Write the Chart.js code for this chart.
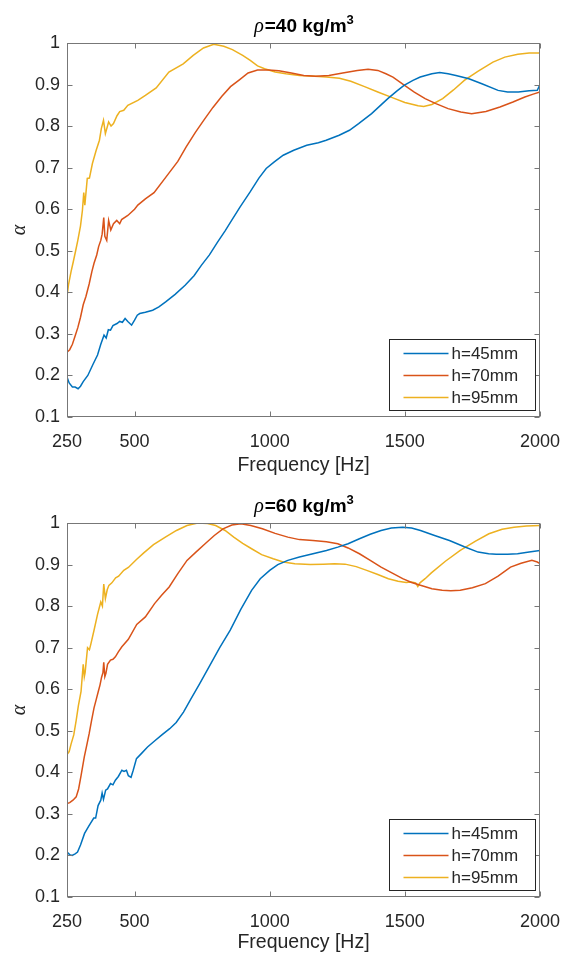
<!DOCTYPE html>
<html>
<head>
<meta charset="utf-8">
<script src="https://cdn.jsdelivr.net/npm/chart.js@4"></script>
<style>
  body { margin: 0; background: #fff; }
  canvas { position: absolute; left: 0; }
</style>
</head>
<body>
<canvas id="chart40" width="574" height="477" style="top:0"></canvas>
<canvas id="chart60" width="574" height="477" style="top:477px"></canvas>
<script>
// Absorption coefficient vs frequency, two densities, three thicknesses

const heights = ['h=45mm', 'h=70mm', 'h=95mm'];
const colors = ['#0072BD', '#D95319', '#EDB120'];
const densities = [40, 60];
const xTicks = [250, 500, 1000, 1500, 2000];
const yTicks = [0.1, 0.2, 0.3, 0.4, 0.5, 0.6, 0.7, 0.8, 0.9, 1];

// rho = 40 kg/m3
const f40_45 = [250,258,270,280,291,300,310,327,345,363,375,387,395,403,411,420,435,445,455,465,475,489,500,510,519,540,567,590,615,650,687,720,747,777,807,835,858,890,927,960,987,1017,1050,1089,1137,1180,1209,1257,1295,1329,1377,1437,1470,1497,1530,1557,1600,1629,1660,1689,1737,1785,1845,1880,1920,1960,1990,2000];
const a40_45 = [0.196,0.182,0.172,0.172,0.168,0.174,0.185,0.200,0.225,0.249,0.275,0.297,0.290,0.310,0.309,0.320,0.325,0.330,0.328,0.337,0.330,0.321,0.333,0.345,0.349,0.352,0.357,0.365,0.377,0.395,0.417,0.440,0.465,0.490,0.521,0.548,0.572,0.605,0.641,0.675,0.698,0.714,0.730,0.742,0.754,0.760,0.766,0.778,0.790,0.806,0.830,0.866,0.884,0.898,0.910,0.918,0.926,0.929,0.926,0.922,0.914,0.902,0.886,0.882,0.882,0.885,0.886,0.900];

const f40_70 = [250,260,270,280,290,300,310,320,332,342,350,360,367,375,380,386,390,397,404,412,422,434,445,452,475,500,512,540,572,625,660,691,725,757,790,823,855,889,920,955,995,1034,1080,1126,1170,1219,1270,1324,1364,1400,1430,1456,1495,1535,1575,1615,1660,1707,1747,1800,1852,1900,1944,1975,2000];
const a40_70 = [0.256,0.262,0.275,0.295,0.315,0.340,0.370,0.390,0.420,0.450,0.470,0.490,0.510,0.525,0.540,0.580,0.535,0.525,0.573,0.550,0.565,0.573,0.565,0.575,0.585,0.600,0.610,0.625,0.640,0.685,0.715,0.750,0.785,0.815,0.845,0.872,0.895,0.912,0.928,0.935,0.935,0.933,0.928,0.922,0.920,0.922,0.928,0.934,0.937,0.934,0.926,0.918,0.900,0.882,0.866,0.854,0.842,0.834,0.830,0.835,0.846,0.858,0.870,0.877,0.882];

const f40_95 = [250,256,265,272,282,290,300,307,312,316,325,333,344,358,370,377,385,392,404,413,422,435,445,460,475,512,540,580,627,680,717,755,793,830,862,900,928,955,981,1020,1060,1110,1166,1210,1258,1300,1351,1400,1456,1500,1549,1570,1600,1640,1680,1720,1770,1826,1870,1918,1960,2000];
const a40_95 = [0.390,0.420,0.450,0.470,0.500,0.525,0.560,0.597,0.640,0.610,0.674,0.675,0.710,0.742,0.766,0.794,0.814,0.782,0.810,0.800,0.806,0.825,0.835,0.838,0.850,0.862,0.874,0.892,0.930,0.950,0.970,0.988,0.997,0.992,0.984,0.970,0.958,0.945,0.938,0.930,0.926,0.922,0.920,0.918,0.915,0.908,0.895,0.882,0.868,0.857,0.849,0.847,0.852,0.866,0.887,0.910,0.932,0.954,0.966,0.973,0.976,0.976];

// rho = 60 kg/m3
const f60_45 = [250,260,269,280,289,300,315,330,349,356,365,375,380,385,393,400,411,420,429,440,453,461,470,477,487,495,507,525,548,575,601,630,654,681,707,740,774,815,854,893,933,965,1000,1030,1067,1110,1160,1210,1252,1290,1332,1372,1412,1450,1492,1525,1558,1610,1665,1720,1771,1810,1838,1880,1917,1960,2000];
const a60_45 = [0.208,0.202,0.200,0.204,0.208,0.225,0.253,0.270,0.290,0.290,0.320,0.333,0.350,0.335,0.357,0.360,0.373,0.370,0.381,0.390,0.405,0.402,0.405,0.392,0.388,0.405,0.433,0.445,0.461,0.476,0.490,0.505,0.520,0.545,0.575,0.612,0.652,0.700,0.742,0.792,0.838,0.866,0.886,0.900,0.910,0.918,0.926,0.934,0.942,0.950,0.962,0.973,0.982,0.988,0.990,0.988,0.982,0.970,0.958,0.943,0.930,0.926,0.925,0.925,0.926,0.930,0.934];

const f60_70 = [250,260,272,284,293,302,314,323,332,341,350,358,366,372,378,383,386,390,394,400,411,420,429,440,453,477,508,540,574,600,628,660,694,727,761,795,827,860,893,930,973,1020,1067,1110,1160,1210,1252,1290,1332,1372,1412,1452,1492,1525,1558,1600,1638,1670,1705,1750,1798,1845,1891,1930,1970,1990,2000];
const a60_70 = [0.325,0.327,0.333,0.341,0.360,0.392,0.437,0.465,0.493,0.525,0.555,0.575,0.595,0.610,0.629,0.640,0.665,0.630,0.638,0.660,0.670,0.672,0.678,0.690,0.702,0.720,0.756,0.774,0.806,0.826,0.846,0.878,0.910,0.930,0.950,0.970,0.986,0.995,0.998,0.994,0.986,0.975,0.966,0.960,0.958,0.955,0.950,0.940,0.926,0.910,0.894,0.880,0.866,0.857,0.850,0.842,0.838,0.837,0.838,0.844,0.854,0.872,0.894,0.903,0.910,0.906,0.902];

const f60_95 = [250,258,265,275,284,292,302,310,314,317,326,333,338,350,363,375,381,386,392,399,405,416,430,441,460,477,507,534,570,614,655,694,734,770,800,835,867,900,933,970,1013,1050,1093,1150,1199,1240,1279,1320,1359,1400,1439,1475,1505,1525,1540,1548,1556,1575,1598,1650,1705,1760,1811,1860,1904,1950,2000];
const a60_95 = [0.443,0.450,0.468,0.490,0.525,0.560,0.595,0.660,0.630,0.640,0.700,0.695,0.708,0.742,0.780,0.810,0.800,0.853,0.818,0.840,0.850,0.856,0.868,0.872,0.886,0.893,0.912,0.928,0.948,0.966,0.982,0.994,1.000,0.999,0.994,0.982,0.966,0.951,0.938,0.924,0.914,0.906,0.902,0.900,0.901,0.902,0.901,0.895,0.886,0.876,0.866,0.860,0.857,0.858,0.856,0.847,0.856,0.866,0.880,0.908,0.934,0.956,0.974,0.985,0.990,0.993,0.994];

const sans = '"Liberation Sans", Arial, sans-serif';
const serif = '"Liberation Serif", "Times New Roman", serif';
const textColor = '#262626';
const axisColor = '#777777';

function toPoints(f, a) {
    return f.map((v, i) => ({ x: v, y: a[i] }));
}

// axes box with inward ticks on all four sides (MATLAB style)
const boxPlugin = {
    id: 'matlabBox',
    afterDatasetsDraw(chart) {
        const ctx = chart.ctx;
        const area = chart.chartArea;
        const L = Math.round(area.left) + 0.5, R = Math.round(area.right) - 0.5;
        const T = Math.round(area.top) + 0.5, B = Math.round(area.bottom) - 0.5;
        ctx.save();
        ctx.strokeStyle = axisColor;
        ctx.lineWidth = 1;
        ctx.strokeRect(L, T, R - L, B - T);
        ctx.beginPath();
        chart.scales.x.ticks.forEach(t => {
            const px = Math.round(chart.scales.x.getPixelForValue(t.value)) + 0.5;
            ctx.moveTo(px, B); ctx.lineTo(px, B - 5);
            ctx.moveTo(px, T); ctx.lineTo(px, T + 5);
        });
        chart.scales.y.ticks.forEach(t => {
            const py = Math.round(chart.scales.y.getPixelForValue(t.value)) + 0.5;
            ctx.moveTo(L, py); ctx.lineTo(L + 5, py);
            ctx.moveTo(R, py); ctx.lineTo(R - 5, py);
        });
        ctx.stroke();
        ctx.restore();
    }
};

// title: italic rho, bold text, superscript 3
const titlePlugin = {
    id: 'matlabTitle',
    afterDraw(chart, args, opts) {
        const ctx = chart.ctx;
        const area = chart.chartArea;
        const rhoFont = 'italic 20px ' + serif;
        const mainFont = 'bold 19px ' + sans;
        const supFont = 'bold 13px ' + sans;
        const main = '=' + opts.density + ' kg/m';
        ctx.save();
        ctx.fillStyle = '#000';
        ctx.textBaseline = 'alphabetic';
        ctx.font = rhoFont;
        const w1 = ctx.measureText('ρ').width;
        ctx.font = mainFont;
        const w2 = ctx.measureText(main).width;
        ctx.font = supFont;
        const w3 = ctx.measureText('3').width;
        let x = (area.left + area.right) / 2 - (w1 + w2 + w3) / 2;
        const y = area.top - 11;
        ctx.font = rhoFont;
        ctx.fillText('ρ', x, y);
        x += w1 + 1;
        ctx.font = mainFont;
        ctx.fillText(main, x, y);
        x += w2;
        ctx.font = supFont;
        ctx.fillText('3', x, y - 8);
        ctx.restore();
    }
};

// boxed legend in the lower right corner of the axes
const legendPlugin = {
    id: 'matlabLegend',
    afterDraw(chart) {
        const ctx = chart.ctx;
        const area = chart.chartArea;
        const w = 146, h = 71;
        const left = Math.round(area.right - 5 - w) + 0.5;
        const top = Math.round(area.bottom - 7 - h) + 0.5;
        ctx.save();
        ctx.fillStyle = '#fff';
        ctx.fillRect(left, top, w, h);
        ctx.strokeStyle = textColor;
        ctx.lineWidth = 1;
        ctx.strokeRect(left, top, w, h);
        ctx.font = '17px ' + sans;
        ctx.textBaseline = 'middle';
        chart.data.datasets.forEach((ds, i) => {
            const cy = top + 14 + i * 22;
            ctx.strokeStyle = ds.borderColor;
            ctx.lineWidth = 1.5;
            ctx.beginPath();
            ctx.moveTo(left + 14, cy);
            ctx.lineTo(left + 59, cy);
            ctx.stroke();
            ctx.fillStyle = textColor;
            ctx.fillText(ds.label, left + 62, cy + 1);
        });
        ctx.restore();
    }
};

function buildChart(id, density, freqs, alphas, box) {
    const datasets = heights.map((label, i) => ({
        label: label,
        data: toPoints(freqs[i], alphas[i]),
        borderColor: colors[i],
        backgroundColor: colors[i],
        borderWidth: 1.5,
        pointRadius: 0,
        fill: false
    }));

    return new Chart(document.getElementById(id), {
        type: 'line',
        data: { datasets: datasets },
        options: {
            responsive: false,
            animation: false,
            devicePixelRatio: 1,
            layout: { padding: { left: 0, top: box.top, right: box.right, bottom: 0 } },
            plugins: {
                legend: { display: false },
                tooltip: { enabled: false },
                matlabTitle: { density: density }
            },
            scales: {
                x: {
                    type: 'linear',
                    min: 250,
                    max: 2000,
                    afterBuildTicks: s => { s.ticks = xTicks.map(v => ({ value: v })); },
                    afterFit: s => { s.height = box.xHeight; },
                    grid: { display: false, drawTicks: false },
                    border: { display: false },
                    ticks: {
                        color: textColor,
                        font: { family: sans, size: 18 },
                        padding: 14,
                        maxRotation: 0,
                        autoSkip: false,
                        callback: v => String(v)
                    },
                    title: {
                        display: true,
                        text: 'Frequency [Hz]',
                        color: textColor,
                        font: { family: sans, size: 19.5 },
                        padding: 0
                    }
                },
                y: {
                    type: 'linear',
                    min: 0.1,
                    max: 1,
                    afterBuildTicks: s => { s.ticks = yTicks.map(v => ({ value: v })); },
                    afterFit: s => { s.width = 67; },
                    grid: { display: false, drawTicks: false },
                    border: { display: false },
                    ticks: {
                        color: textColor,
                        font: { family: sans, size: 18 },
                        padding: 7,
                        autoSkip: false,
                        callback: v => String(+v.toFixed(1))
                    },
                    title: {
                        display: true,
                        text: 'α',
                        color: textColor,
                        font: { family: serif, size: 20, style: 'italic' },
                        padding: { top: 8, bottom: 0 }
                    }
                }
            }
        },
        plugins: [boxPlugin, titlePlugin, legendPlugin]
    });
}

buildChart('chart40', densities[0], [f40_45, f40_70, f40_95], [a40_45, a40_70, a40_95],
    { top: 43, right: 21, xHeight: 60 });
buildChart('chart60', densities[1], [f60_45, f60_70, f60_95], [a60_45, a60_70, a60_95],
    { top: 46, right: 24, xHeight: 57 });
</script>
</body>
</html>
